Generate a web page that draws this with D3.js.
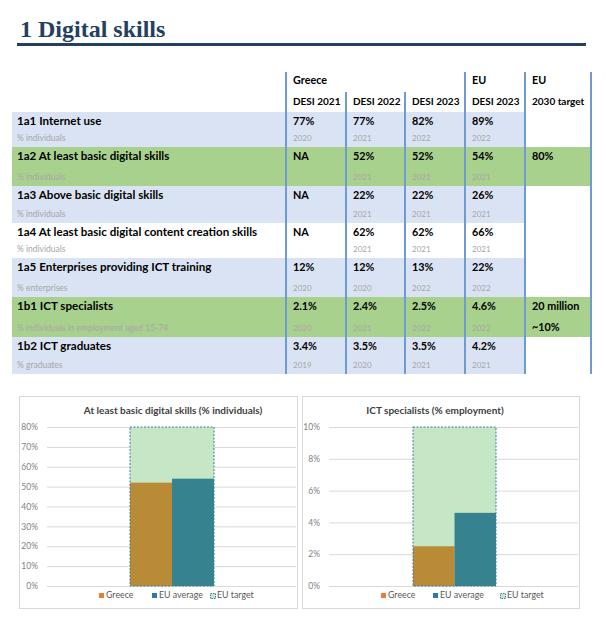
<!DOCTYPE html>
<html>
<head>
<meta charset="utf-8">
<script src="https://cdn.jsdelivr.net/npm/d3@7"></script>
<style>
  body { margin: 0; background: #fff; }
  svg { display: block; }
  text { font-family: Lato, "Noto Sans", sans-serif; }
</style>
</head>
<body>
<div class="chart"></div>
<script>
// Table data
var rowLabels = ["1a1 Internet use", "1a2 At least basic digital skills", "1a3 Above basic digital skills",
  "1a4 At least basic digital content creation skills", "1a5 Enterprises providing ICT training",
  "1b1 ICT specialists", "1b2 ICT graduates"];
var rowUnits = ["% individuals", "% individuals", "% individuals", "% individuals", "% enterprises",
  "% individuals in employment aged 15-74", "% graduates"];
var rowShade = ["blue", "green", "blue", "none", "blue", "green", "blue"];

var colHeads = ["DESI 2021", "DESI 2022", "DESI 2023", "DESI 2023", "2030 target"];
var greece2021 = ["77%", "NA", "NA", "NA", "12%", "2.1%", "3.4%"];
var greece2021Year = ["2020", "", "", "", "2020", "2020", "2019"];
var greece2022 = ["77%", "52%", "22%", "62%", "12%", "2.4%", "3.5%"];
var greece2022Year = ["2021", "2021", "2021", "2021", "2020", "2021", "2020"];
var greece2023 = ["82%", "52%", "22%", "62%", "13%", "2.5%", "3.5%"];
var greece2023Year = ["2022", "2021", "2021", "2021", "2022", "2022", "2021"];
var eu2023 = ["89%", "54%", "26%", "66%", "22%", "4.6%", "4.2%"];
var eu2023Year = ["2022", "2021", "2021", "2021", "2022", "2022", "2021"];
var target2030 = ["", "80%", "", "", "", "20 million", ""];
var target2030Sub = ["", "", "", "", "", "~10%", ""];

// Chart data
var barCategories = ["Greece", "EU average"];
var basicSkills = [0.52, 0.54], basicSkillsTarget = 0.80;
var basicTicks = [0, 0.1, 0.2, 0.3, 0.4, 0.5, 0.6, 0.7, 0.8];
var ictSpecialists = [0.025, 0.046], ictTarget = 0.10;
var ictTicks = [0, 0.02, 0.04, 0.06, 0.08, 0.10];

// Layout
var width = 606, height = 631,
  navy = "#243f60",
  lineBlue = "#6f9bd2",
  shades = { blue: "#dae3f3", green: "#a9d18e", none: "#fff" },
  colX = [286, 346, 405, 465, 525, 591],
  rowTop = 112,
  rowHeights = [35, 39, 37, 35, 39, 40, 37],
  labelX = 17;

var svg = d3.select(".chart").append("svg")
  .attr("width", width)
  .attr("height", height);

// Title
svg.append("text")
  .attr("x", 20).attr("y", 37)
  .style("font-family", '"Liberation Serif", "DejaVu Serif", serif')
  .style("font-weight", "bold")
  .style("font-size", "24px")
  .style("fill", navy)
  .text("1 Digital skills");
svg.append("rect")
  .attr("x", 17).attr("y", 43).attr("width", 569).attr("height", 3)
  .attr("fill", navy);

// Table rows
var tops = [];
rowHeights.reduce(function(acc, h) { tops.push(acc); return acc + h; }, rowTop);
var tableBottom = rowTop + d3.sum(rowHeights);

var rows = svg.append("g").selectAll("g")
  .data(rowLabels)
  .enter().append("g")
  .attr("transform", function(d, i) { return "translate(0," + tops[i] + ")"; });

rows.append("rect")
  .attr("x", 12).attr("width", function(d, i) {
    return (rowShade[i] == "green" ? colX[5] : colX[4]) - 12;
  })
  .attr("height", function(d, i) { return rowHeights[i]; })
  .attr("fill", function(d, i) { return shades[rowShade[i]]; });

rows.append("text")
  .attr("x", labelX).attr("y", 13)
  .style("font-weight", "bold").style("font-size", "11.6px")
  .text(function(d) { return d; });
rows.append("text")
  .attr("x", labelX).attr("y", function(d, i) { return rowHeights[i] - 6; })
  .style("font-size", "8.5px").style("fill", "#a6a6a6")
  .text(function(d, i) { return rowUnits[i]; });

var valueCols = [
  [greece2021, greece2021Year], [greece2022, greece2022Year],
  [greece2023, greece2023Year], [eu2023, eu2023Year], [target2030, target2030Sub]
];
valueCols.forEach(function(col, c) {
  rows.append("text")
    .attr("x", colX[c] + 7).attr("y", 13)
    .style("font-weight", "bold").style("font-size", "10.8px")
    .text(function(d, i) { return col[0][i]; });
  rows.append("text")
    .attr("x", colX[c] + 7).attr("y", function(d, i) { return rowHeights[i] - 6; })
    .style("font-size", c == 4 ? "10.8px" : "8px")
    .style("font-weight", c == 4 ? "bold" : "normal")
    .style("fill", c == 4 ? "#000" : "#a6a6a6")
    .text(function(d, i) { return col[1][i]; });
});

// Table header
var head = svg.append("g");
[["Greece", 0], ["EU", 3], ["EU", 4]].forEach(function(h) {
  head.append("text")
    .attr("x", colX[h[1]] + 7).attr("y", 84)
    .style("font-weight", "bold").style("font-size", "10.8px")
    .text(h[0]);
});
colHeads.forEach(function(h, c) {
  head.append("text")
    .attr("x", colX[c] + 7).attr("y", 105)
    .style("font-weight", "bold").style("font-size", "10px")
    .text(h);
});
colX.forEach(function(x, c) {
  head.append("line")
    .attr("x1", x).attr("x2", x)
    .attr("y1", (c == 1 || c == 2) ? 92 : 72)
    .attr("y2", tableBottom)
    .attr("stroke", lineBlue).attr("stroke-width", 2);
});

// Bar charts
function barChart(opt) {
  var g = svg.append("g");
  g.append("rect")
    .attr("x", opt.box[0] + 0.5).attr("y", 396.5)
    .attr("width", opt.box[1] - opt.box[0]).attr("height", 212)
    .attr("fill", "#fff").attr("stroke", "#d9d9d9");

  var y = d3.scaleLinear().domain(opt.domain).range([586, 427]);
  var x = d3.scaleBand().domain(barCategories).range(opt.bars).padding(0);

  g.append("text")
    .attr("x", opt.titleX).attr("y", 414)
    .attr("text-anchor", "middle")
    .style("font-weight", "bold").style("font-size", "10px").style("fill", "#404040")
    .text(opt.title);

  var axis = g.append("g")
    .attr("transform", "translate(" + opt.grid[0] + ",0)")
    .call(d3.axisLeft(y).tickValues(opt.ticks)
      .tickFormat(d3.format(".0%"))
      .tickSize(-(opt.grid[1] - opt.grid[0])).tickPadding(9));
  axis.select(".domain").remove();
  axis.selectAll(".tick line").attr("stroke", "#d9d9d9");
  axis.selectAll(".tick text")
    .style("font-family", "Lato, sans-serif").style("font-size", "8.5px").attr("fill", "#7f7f7f");

  g.append("rect")
    .attr("x", x.range()[0]).attr("width", x.range()[1] - x.range()[0])
    .attr("y", y(opt.target)).attr("height", y(0) - y(opt.target))
    .attr("fill", "#c6e7c6");

  g.selectAll(".bar")
    .data(opt.values)
    .enter().append("rect")
    .attr("class", "bar")
    .attr("x", function(d, i) { return x(barCategories[i]); })
    .attr("width", x.bandwidth())
    .attr("y", function(d) { return y(d); })
    .attr("height", function(d) { return y(0) - y(d); })
    .attr("fill", function(d, i) { return i == 0 ? "#b98b36" : "#37828f"; });

  g.append("rect")
    .attr("x", x.range()[0]).attr("width", x.range()[1] - x.range()[0])
    .attr("y", y(opt.target)).attr("height", y(0) - y(opt.target))
    .attr("fill", "none").attr("stroke", "#3d7ea6")
    .attr("stroke-width", 1).attr("stroke-dasharray", "2,1.5");

  // Legend
  var lg = g.append("g").attr("transform", "translate(0,598)");
  var items = [["Greece", "#ed7d31"], ["EU average", "#2e75b6"], ["EU target", null]];
  items.forEach(function(it, i) {
    var lx = opt.legend[i];
    if (it[1]) {
      lg.append("rect").attr("x", lx).attr("y", -5).attr("width", 5).attr("height", 5).attr("fill", it[1]);
    } else {
      lg.append("rect").attr("x", lx + 0.5).attr("y", -4.5).attr("width", 5).attr("height", 5)
        .attr("fill", "#c6e7c6").attr("stroke", "#3d7ea6").attr("stroke-dasharray", "1.5,1");
    }
    lg.append("text")
      .attr("x", lx + 7).attr("y", 0)
      .style("font-size", "8.8px").style("fill", "#595959")
      .text(it[0]);
  });
}

barChart({
  box: [19, 297], grid: [47, 296], bars: [130, 214],
  domain: [0, 0.8], ticks: basicTicks, values: basicSkills, target: basicSkillsTarget,
  title: "At least basic digital skills (% individuals)", titleX: 173,
  legend: [99, 152, 210]
});
barChart({
  box: [302, 579], grid: [329, 578], bars: [413, 496],
  domain: [0, 0.1], ticks: ictTicks, values: ictSpecialists, target: ictTarget,
  title: "ICT specialists (% employment)", titleX: 435,
  legend: [381, 433, 500]
});
</script>
</body>
</html>
